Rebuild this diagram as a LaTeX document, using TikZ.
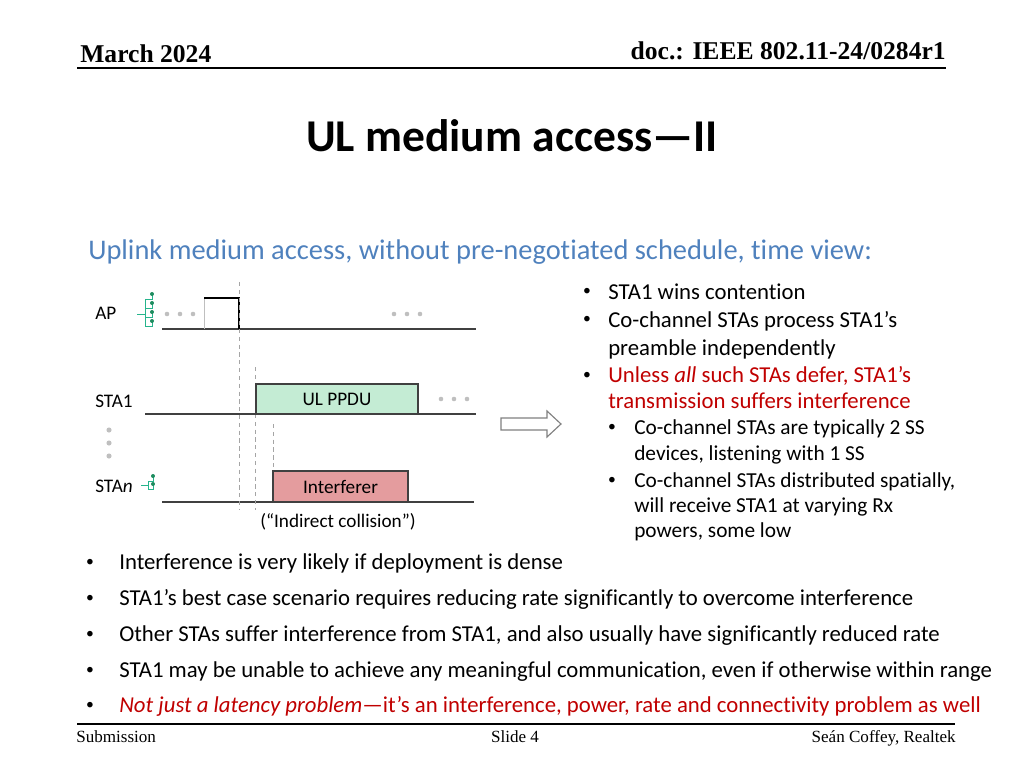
\documentclass[tikz,border=0pt]{standalone}
\usepackage{fontspec}
\setmainfont{Carlito}[Ligatures=NoCommon]
\newfontfamily\tms{Liberation Serif}
\definecolor{subblue}{RGB}{79,129,189}
\definecolor{darkred}{RGB}{192,0,0}
\definecolor{ppdufill}{RGB}{196,236,212}
\definecolor{intfill}{RGB}{228,156,158}
\definecolor{dotgray}{RGB}{191,191,191}
\definecolor{dashgray}{RGB}{165,165,165}
\definecolor{antteal}{RGB}{38,180,140}
\definecolor{antdot}{RGB}{30,140,95}
\definecolor{linegray}{RGB}{64,64,64}
\begin{document}
\begin{tikzpicture}[x=0.703125pt,y=-0.703125pt,
  txt/.style={anchor=base west,inner sep=0pt},
  mainb/.style={txt,font=\fontsize{16}{19}\selectfont},
  subb/.style={txt,font=\fontsize{15}{18}\selectfont},
  botb/.style={txt,font=\fontsize{16}{19}\selectfont},
  bul/.style={anchor=base,inner sep=0pt,font=\fontsize{11}{12}\selectfont},
  diag/.style={inner sep=0pt,font=\fontsize{13.5}{16}\selectfont},
  tline/.style={draw=linegray,line width=0.9pt},
  dashline/.style={draw=dashgray,line width=0.6pt,dash pattern=on 3pt off 2.5pt},
  gdot/.style={fill=dotgray,draw=none},
  ant/.style={draw=antteal,line width=0.7pt},
  antd/.style={fill=antdot,draw=none},
  pbox/.style={draw=linegray,line width=0.8pt,inner sep=0pt,font=\fontsize{13.5}{16}\selectfont}]
\useasboundingbox (0,0) rectangle (1024,768);
% header
\node[txt,font=\tms\bfseries\fontsize{18}{21}\selectfont] (hdate) at (80,63) {March 2024};
\node[anchor=base east,inner sep=0pt,font=\tms\bfseries\fontsize{18}{21}\selectfont] (hdoc) at (946,60) {doc.: IEEE 802.11-24/0284r1};
\coordinate (hl1) at (77,68); \coordinate (hl2) at (946,68);
\draw[line width=1.3pt] (hl1) -- (hl2);
% title
\node[anchor=base,inner sep=0pt,font=\fontsize{32}{38}\selectfont\bfseries] (title) at (512,152) {UL medium access—II};
\node[txt,font=\fontsize{20}{24}\selectfont,text=subblue] (subtitle) at (88,260) {Uplink medium access, without pre-negotiated schedule, time view:};
% diagram: labels
\node[diag,anchor=base west] (lap) at (95,319) {AP};
\node[diag,anchor=base west] (lsta1) at (95,407) {STA1};
\node[diag,anchor=base west] (lstan) at (95,492) {STA\textit{n}};
% timelines
\coordinate (ap1) at (162,329); \coordinate (ap2) at (476,329);
\coordinate (s11) at (145,414); \coordinate (s12) at (476,414);
\coordinate (sn1) at (162,502); \coordinate (sn2) at (474,502);
\draw[tline] (ap1) -- (ap2);
\draw[tline] (s11) -- (s12);
\draw[tline] (sn1) -- (sn2);
% AP box
\coordinate (apb1) at (204,329); \coordinate (apb2) at (204,298);
\coordinate (apb3) at (239,298); \coordinate (apb4) at (239,329);
\draw[draw=dotgray,line width=0.6pt] (apb1) -- (apb2);
\draw[line width=0.8pt] (apb2) -- (apb3) -- (apb4);
% dashed lines
\coordinate (d1a) at (239,282); \coordinate (d1b) at (239,510);
\coordinate (d2a) at (255,367); \coordinate (d2b) at (255,510);
\coordinate (d3a) at (273,424); \coordinate (d3b) at (273,502);
\draw[dashline] (d1a) -- (d1b);
\draw[dashline] (d2a) -- (d2b);
\draw[dashline] (d3a) -- (d3b);
% boxes
\node[pbox,fill=ppdufill,minimum width=113.9pt,minimum height=21.1pt] (ppdu) at (337,399) {UL PPDU};
\node[pbox,fill=intfill,minimum width=94.9pt,minimum height=21.8pt] (intf) at (340.5,486.5) {Interferer};
\node[diag,anchor=base] (indirect) at (338,527) {(“Indirect collision”)};
% gray dots
\foreach \x in {167,180,193,394,407,420} \fill[gdot] (\x,314) circle (1.6pt);
\foreach \x in {441,454,467} \fill[gdot] (\x,399) circle (1.6pt);
\foreach \y in {430,443,456} \fill[gdot] (109,\y) circle (1.8pt);
% AP antenna
\coordinate (aps1) at (137,314); \coordinate (aps2) at (145,314);
\coordinate (apt1) at (145,299); \coordinate (apt2) at (145,326);
\draw[ant] (aps1) -- (aps2);
\draw[ant] (apt1) -- (apt2);
\foreach \y in {299,308,317,326} {
  \draw[ant] (145,\y) -- (152,\y) -- (152,\y-5);
  \fill[antd] (152,\y-5) circle (1.4pt);
}
% STAn antenna
\coordinate (sns1) at (141,485); \coordinate (sns2) at (148,485);
\coordinate (snt1) at (148,481); \coordinate (snt2) at (148,489);
\draw[ant] (sns1) -- (sns2);
\draw[ant] (snt1) -- (snt2);
\foreach \y in {481,489} {
  \draw[ant] (148,\y) -- (153,\y) -- (153,\y-5);
  \fill[antd] (153,\y-5) circle (1.4pt);
}
% hollow arrow
\draw[draw=gray,line width=0.8pt,fill=white] (501,418) -- (547,418) -- (547,411) -- (561,424) -- (547,437) -- (547,430) -- (501,430) -- cycle;
% right bullets
\foreach \y in {299,327,382} \node[bul] at (587,\y-3) {•};
\foreach \y in {434,487} \node[bul] at (612,\y-3) {•};
\node[mainb] (r1) at (608,299) {STA1 wins contention};
\node[mainb] (r2) at (608,327) {Co-channel STAs process STA1’s};
\node[mainb] (r3) at (608,355) {preamble independently};
\node[mainb,text=darkred] (r4) at (608,382) {Unless \textit{all} such STAs defer, STA1’s};
\node[mainb,text=darkred] (r5) at (608,408) {transmission suffers interference};
\node[subb] (s1) at (634,434) {Co-channel STAs are typically 2 SS};
\node[subb] (s2) at (634,460) {devices, listening with 1 SS};
\node[subb] (s3) at (634,487) {Co-channel STAs distributed spatially,};
\node[subb] (s4) at (634,512) {will receive STA1 at varying Rx};
\node[subb] (s5) at (634,537) {powers, some low};
% bottom bullets
\foreach \y in {569,605,641,677,712} \node[bul] at (90,\y-3) {•};
\node[botb] (b1) at (119,569) {Interference is very likely if deployment is dense};
\node[botb] (b2) at (119,605) {STA1’s best case scenario requires reducing rate significantly to overcome interference};
\node[botb] (b3) at (119,641) {Other STAs suffer interference from STA1, and also usually have significantly reduced rate};
\node[botb] (b4) at (119,677) {STA1 may be unable to achieve any meaningful communication, even if otherwise within range};
\node[botb,text=darkred] (b5) at (119,712) {\textit{Not just a latency problem}—it’s an interference, power, rate and connectivity problem as well};
% footer
\coordinate (fl1) at (77,724); \coordinate (fl2) at (955,724);
\draw[line width=1.3pt] (fl1) -- (fl2);
\node[txt,font=\tms\fontsize{12}{14}\selectfont] (fsub) at (76,742) {Submission};
\node[anchor=base,inner sep=0pt,font=\tms\fontsize{12}{14}\selectfont] (fslide) at (515,742) {Slide 4};
\node[anchor=base east,inner sep=0pt,font=\tms\fontsize{12}{14}\selectfont] (fauth) at (956,742) {Seán Coffey, Realtek};
\end{tikzpicture}
\end{document}
